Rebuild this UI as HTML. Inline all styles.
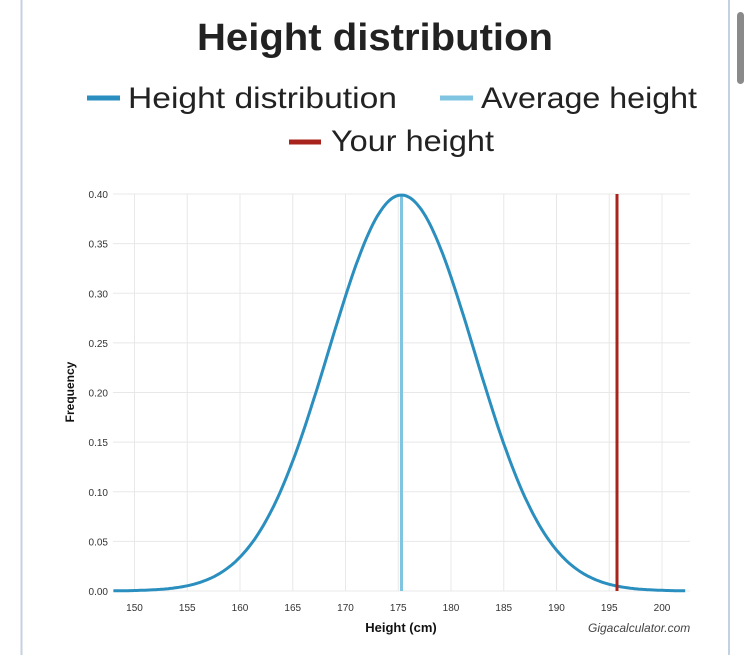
<!DOCTYPE html>
<html><head><meta charset="utf-8"><style>
html,body{margin:0;padding:0;background:#fff;width:750px;height:655px;overflow:hidden;font-family:"Liberation Sans",sans-serif}
</style></head><body>
<svg width="750" height="655" xmlns="http://www.w3.org/2000/svg" font-family="Liberation Sans, sans-serif">
<rect x="0" y="0" width="750" height="655" fill="#fff"/>
<line x1="21.5" y1="0" x2="21.5" y2="655" stroke="#c3d2e0" stroke-width="2"/>
<line x1="729" y1="0" x2="729" y2="655" stroke="#c3d2e0" stroke-width="2"/>
<rect x="737" y="12" width="7" height="72" rx="3.5" fill="#8a8a8a"/>
<text x="197" y="50" textLength="356" lengthAdjust="spacingAndGlyphs" font-size="38" font-weight="bold" fill="#222">Height distribution</text>
<line x1="87" y1="98" x2="120" y2="98" stroke="#2a8fbf" stroke-width="5"/>
<text x="128" y="108" textLength="269" lengthAdjust="spacingAndGlyphs" font-size="30" fill="#222">Height distribution</text>
<line x1="440" y1="98" x2="473" y2="98" stroke="#7fc4e0" stroke-width="5"/>
<text x="481" y="108" textLength="216" lengthAdjust="spacingAndGlyphs" font-size="30" fill="#222">Average height</text>
<line x1="289" y1="142" x2="321" y2="142" stroke="#a8231c" stroke-width="5"/>
<text x="331" y="151" textLength="163" lengthAdjust="spacingAndGlyphs" font-size="30" fill="#222">Your height</text>
<g id="grid" stroke="#e8e8e8" stroke-width="1"></g>
<g id="labels" font-size="10" fill="#333"></g>
<line x1="401.5" y1="194" x2="401.5" y2="591" stroke="#7fc4e0" stroke-width="3"/>
<path id="curve" fill="none" stroke="#2a8fbf" stroke-width="3"/>
<line x1="617" y1="194" x2="617" y2="591" stroke="#a8231c" stroke-width="3"/>
<text transform="translate(74,392) rotate(-90)" text-anchor="middle" font-size="12" font-weight="bold" fill="#111">Frequency</text>
<text x="401" y="632" text-anchor="middle" font-size="13" font-weight="bold" fill="#111">Height (cm)</text>
<text x="588" y="632" font-size="12" font-style="italic" fill="#444">Gigacalculator.com</text>
<rect x="700" y="615" width="28" height="25" fill="#fff"/>
</svg>
<script>
var ns="http://www.w3.org/2000/svg";
function X(v){return 134.5+(v-150)*10.55}
function Y(v){return 591-v*992.5}
var g=document.getElementById("grid"),lb=document.getElementById("labels");
function el(p,t,a,txt){var e=document.createElementNS(ns,t);for(var k in a)e.setAttribute(k,a[k]);if(txt)e.textContent=txt;p.appendChild(e);}
for(var i=0;i<=8;i++){var v=i*0.05,y=Y(v);el(g,"line",{x1:113,x2:690,y1:y,y2:y});el(lb,"text",{x:108,y:y+4,"text-anchor":"end"},v.toFixed(2));}
for(var t=150;t<=200;t+=5){var x=X(t);el(g,"line",{x1:x,x2:x,y1:194,y2:591});el(lb,"text",{x:x,y:611,"text-anchor":"middle"},String(t));}
var d="",mu=175.3,sd=6.9;
for(var h=148;h<=202.3;h+=0.2){var z=(h-mu)/sd,p=Math.exp(-z*z/2)/Math.sqrt(2*Math.PI);d+=(d?"L":"M")+X(h).toFixed(1)+","+Y(p).toFixed(1);}
document.getElementById("curve").setAttribute("d",d);
</script>
</body></html>
